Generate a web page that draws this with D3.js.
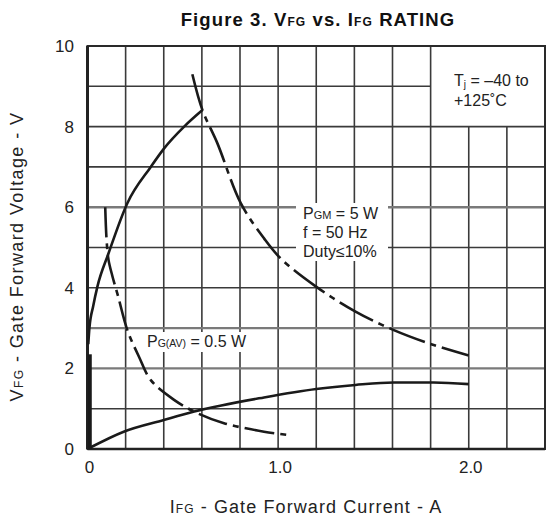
<!DOCTYPE html>
<html>
<head>
<meta charset="utf-8">
<script src="https://cdn.jsdelivr.net/npm/d3@7"></script>
<style>
  html, body { margin: 0; padding: 0; background: #fff; }
  svg { display: block; font-family: "Liberation Sans", Arial, Helvetica, sans-serif; }
</style>
</head>
<body>
<svg id="chart" width="546" height="523"></svg>
<script>
// ---------- data ----------
const xTickValues = [0, 1.0, 2.0];
const xTickLabels = ["0", "1.0", "2.0"];
const yTickValues = [0, 2, 4, 6, 8, 10];
const yTickLabels = ["0", "2", "4", "6", "8", "10"];

// P_GM = 5 W limit curve (dash-dot)
const pgmI = [0.550, 0.603, 0.681, 0.804, 0.927, 1.013, 1.199, 1.406, 1.607, 1.816, 2.000];
const pgmV = [9.30, 8.41, 7.59, 6.10, 5.22, 4.73, 4.03, 3.41, 2.95, 2.58, 2.32];

// upper solid curve (rises to the P_GM peak)
const upperI = [0.004, 0.010, 0.030, 0.052, 0.110, 0.209, 0.332, 0.402, 0.507, 0.603];
const upperV = [2.60, 3.00, 3.55, 4.03, 4.85, 6.10, 7.00, 7.46, 8.00, 8.41];

// P_G(AV) = 0.5 W curve (dash-dot)
const pgavI = [0.093, 0.100, 0.110, 0.130, 0.160, 0.209, 0.270, 0.332, 0.454, 0.576, 0.716, 0.926, 1.050];
const pgavV = [6.00, 5.20, 4.70, 4.30, 3.80, 2.95, 2.29, 1.71, 1.22, 0.89, 0.64, 0.43, 0.35];

// lower solid curve
const lowerI = [0.012, 0.190, 0.400, 0.560, 0.926, 1.200, 1.406, 1.607, 1.816, 2.000];
const lowerV = [0.03, 0.43, 0.72, 0.93, 1.28, 1.49, 1.59, 1.65, 1.65, 1.61];

// short vertical segment near I = 0
const vertI = [0.012, 0.012];
const vertV = [0.00, 2.35];

const gridX = [0, 0.2, 0.4, 0.6, 0.8, 1.0, 1.2, 1.4, 1.6, 1.8, 2.0, 2.2, 2.4];
const gridY = [0, 1, 2, 3, 4, 5, 6, 7, 8, 9, 10];
const lightGridY = [2, 3, 6];

// ---------- drawing ----------
const svg = d3.select("#chart");
const x = d3.scaleLinear().domain([0, 2.4]).range([87.5, 545]);
const y = d3.scaleLinear().domain([0, 10]).range([449, 46]);

const ink = "#1a1a1a";

// grid
const grid = svg.append("g");
gridX.forEach(v => {
  // no vertical lines inside the Tj box (1.8..2.4 A, 8..10 V)
  const top = (v > 1.8 && v < 2.4) ? y(8) : y(10);
  grid.append("line")
    .attr("x1", x(v)).attr("x2", x(v))
    .attr("y1", top).attr("y2", y(0))
    .attr("stroke", "#3a3a3a").attr("stroke-width", 1.6);
});
gridY.forEach(v => {
  const right = (v === 9) ? x(1.8) : x(2.4);
  const light = lightGridY.includes(v);
  grid.append("line")
    .attr("x1", x(0)).attr("x2", right)
    .attr("y1", y(v)).attr("y2", y(v))
    .attr("stroke", light ? "#7a7a7a" : "#3a3a3a")
    .attr("stroke-width", light ? 2.4 : 1.6);
});

// label backgrounds that knock out the grid
svg.append("rect").attr("x", 296).attr("y", 203).attr("width", 92).attr("height", 58).attr("fill", "#fff");
svg.append("rect").attr("x", 145).attr("y", 332).attr("width", 102).attr("height", 20).attr("fill", "#fff");

// frame
svg.append("rect")
  .attr("x", x(0)).attr("y", y(10))
  .attr("width", x(2.4) - x(0)).attr("height", y(0) - y(10))
  .attr("fill", "none").attr("stroke", "#2a2a2a").attr("stroke-width", 2);
svg.append("line")
  .attr("x1", x(0)).attr("x2", x(0)).attr("y1", y(10)).attr("y2", y(0))
  .attr("stroke", "#222").attr("stroke-width", 3);
svg.append("line")
  .attr("x1", x(0)).attr("x2", x(2.4)).attr("y1", y(0)).attr("y2", y(0))
  .attr("stroke", "#222").attr("stroke-width", 2.6);

// curves
function series(I, V) { return I.map((d, i) => [d, V[i]]); }
const lineCR = d3.line().x(d => x(d[0])).y(d => y(d[1])).curve(d3.curveCatmullRom.alpha(0.5));
const lineMono = d3.line().x(d => x(d[0])).y(d => y(d[1])).curve(d3.curveMonotoneX);
const lineLin = d3.line().x(d => x(d[0])).y(d => y(d[1]));

const curves = svg.append("g").attr("fill", "none").attr("stroke", ink).attr("stroke-linecap", "butt");
curves.append("path").attr("d", lineMono(series(upperI, upperV))).attr("stroke-width", 2.6);
curves.append("path").attr("d", lineMono(series(lowerI, lowerV))).attr("stroke-width", 2.6);
curves.append("path").attr("d", lineLin(series(vertI, vertV))).attr("stroke-width", 4);
curves.append("path").attr("d", lineCR(series(pgmI, pgmV))).attr("stroke-width", 2.6)
  .attr("stroke-dasharray", "38,6,6,6");
curves.append("path").attr("d", lineCR(series(pgavI, pgavV))).attr("stroke-width", 2.6)
  .attr("stroke-dasharray", "30,6,6,6");

// axes (labels only)
const yAxis = svg.append("g").attr("transform", `translate(${x(0)},0)`)
  .call(d3.axisLeft(y).tickValues(yTickValues).tickSize(0).tickPadding(13.5)
    .tickFormat((d, i) => yTickLabels[i]));
const xAxis = svg.append("g").attr("transform", `translate(1.5,${y(0)})`)
  .call(d3.axisBottom(x).tickValues(xTickValues).tickSize(0).tickPadding(12)
    .tickFormat((d, i) => xTickLabels[i]));
[yAxis, xAxis].forEach(a => {
  a.select(".domain").remove();
  a.selectAll("text").attr("font-family", "'Liberation Sans', Arial, sans-serif")
    .attr("font-size", 17).attr("fill", "#222");
});

// title
const title = svg.append("text").attr("x", 318).attr("y", 26).attr("text-anchor", "middle")
  .attr("font-size", 18.5).attr("font-weight", "bold").attr("fill", "#111").attr("letter-spacing", 1.1);
title.append("tspan").text("Figure 3.  V");
title.append("tspan").attr("font-size", 12).text("FG");
title.append("tspan").text(" vs. I");
title.append("tspan").attr("font-size", 12).text("FG");
title.append("tspan").text(" RATING");

// axis titles
const xt = svg.append("text").attr("x", 306).attr("y", 513).attr("text-anchor", "middle")
  .attr("font-size", 18).attr("fill", "#222").attr("letter-spacing", 1.1);
xt.append("tspan").text("I");
xt.append("tspan").attr("font-size", 12).text("FG");
xt.append("tspan").text(" - Gate Forward Current - A");

const yt = svg.append("text").attr("transform", "translate(23,256.5) rotate(-90)")
  .attr("text-anchor", "middle").attr("font-size", 18).attr("fill", "#222").attr("letter-spacing", 1.4);
yt.append("tspan").text("V");
yt.append("tspan").attr("font-size", 12).text("FG");
yt.append("tspan").text(" - Gate Forward Voltage - V");

// annotations
const ann = svg.append("g").attr("font-size", 16).attr("fill", "#222");
const tj1 = ann.append("text").attr("x", 454).attr("y", 86);
tj1.append("tspan").text("T");
tj1.append("tspan").attr("font-size", 10).attr("dy", 2).text("j");
tj1.append("tspan").attr("dy", -2).text(" = \u201340 to");
ann.append("text").attr("x", 454).attr("y", 106).text("+125\u02DAC");

const p1 = ann.append("text").attr("x", 303).attr("y", 219);
p1.append("tspan").text("P");
p1.append("tspan").attr("font-size", 11).text("GM");
p1.append("tspan").text(" = 5 W");
ann.append("text").attr("x", 303).attr("y", 238).text("f = 50 Hz");
ann.append("text").attr("x", 303).attr("y", 257).text("Duty\u226410%");

const p2 = ann.append("text").attr("x", 147).attr("y", 347);
p2.append("tspan").text("P");
p2.append("tspan").attr("font-size", 10.5).text("G(AV)");
p2.append("tspan").text(" = 0.5 W");
</script>
</body>
</html>
